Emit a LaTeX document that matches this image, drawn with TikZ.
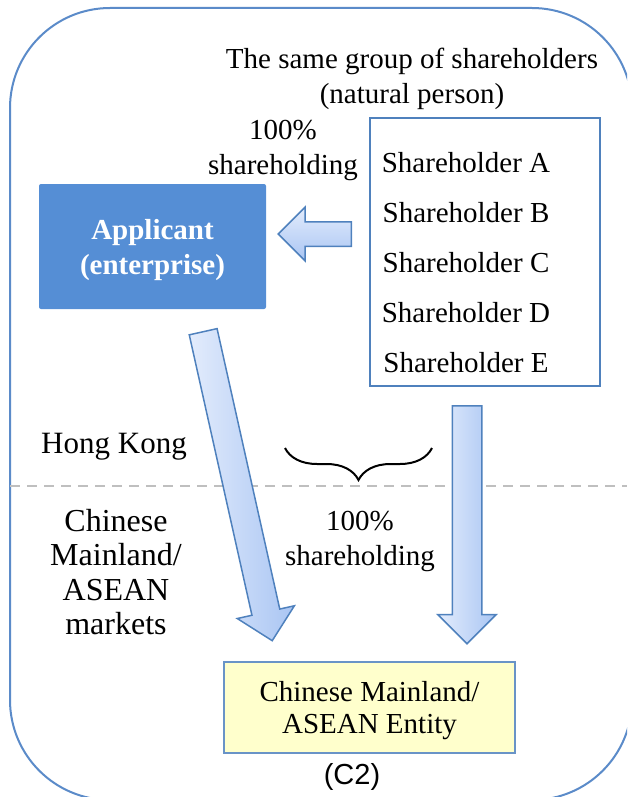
\documentclass[tikz,border=0pt]{standalone}
\usepackage{fontspec}
\setmainfont{Liberation Serif}
\newfontfamily\codesans{Liberation Sans}
\usetikzlibrary{shapes.arrows,decorations.pathreplacing}
\definecolor{frameblue}{HTML}{5B8BC9}
\definecolor{boxblue}{HTML}{558ED5}
\definecolor{edgeblue}{HTML}{4F81BD}
\definecolor{arrowlight}{HTML}{E3ECFC}
\definecolor{arrowdark}{HTML}{A9C5F3}
\definecolor{entityfill}{HTML}{FFFFCC}
\definecolor{dashgray}{HTML}{BFBFBF}

\begin{document}
\begin{tikzpicture}[
		x=1pt, y=-1pt,
		txt/.style={font=\fontsize{29}{35}\selectfont, align=center, inner sep=0pt},
		bigtxt/.style={txt, font=\fontsize{32}{34.5}\selectfont},
		applbox/.style={rectangle, rounded corners=2pt, fill=boxblue, minimum width=227pt, minimum height=125pt},
		holderbox/.style={rectangle, draw=edgeblue, line width=2pt, fill=white,
			minimum width=230pt, minimum height=268pt},
		entitybox/.style={rectangle, draw=edgeblue!85, line width=1.5pt, fill=entityfill,
			minimum width=291pt, minimum height=91pt},
		blockarrow/.style={single arrow, draw=edgeblue, line width=1.5pt, inner xsep=0pt,
			anchor=tail, single arrow tip angle=90},
		sideshade/.style={left color=arrowlight, right color=arrowdark},
		flatshade/.style={top color=arrowlight, bottom color=arrowdark}]
	\clip (0,0) rectangle (627,797);
	%% outer frame
	\draw[frameblue, line width=2pt, rounded corners=100pt] (10,8) rectangle (632,800);
	%% border line between the regions
	\draw[dashgray, line width=2pt, dash pattern=on 10pt off 7pt] (10,486) -- (627,486);
	%% boxes
	\node (appl) at (152.5,246.5) [applbox] {};
	\node (appltxt) at (152.5,250.5) [txt, text=white, font=\fontsize{29}{35}\selectfont\bfseries]
		{Applicant\\(enterprise)};
	\node (holders) at (485,252) [holderbox] {};
	\foreach \ltr [count=\i] in {A,B,C,D,E}
		\node (sh\ltr) at (466,{113+50*\i}) [txt] {Shareholder \ltr};
	\node (entity) at (369.5,707.5) [entitybox] {};
	\node (entitytxt) at (369.5,711) [txt, font=\fontsize{29}{32}\selectfont]
		{Chinese Mainland/\\ASEAN Entity};
	%% labels
	\node (group) at (412,79) [txt] {The same group of shareholders\\(natural person)};
	\node (pcttop) at (283,150) [txt] {100\%\\shareholding};
	\node (hk) at (114,447) [txt, font=\fontsize{31}{35}\selectfont] {Hong Kong};
	\node (mkts) at (116,572) [bigtxt] {Chinese\\Mainland/\\ASEAN\\markets};
	\node (pctlow) at (360,541) [txt] {100\%\\shareholding};
	\node (code) at (352,777) [txt, font=\codesans\fontsize{29}{35}\selectfont] {(C2)};
	%% block arrows, placed by their tails
	\coordinate (toapplstart) at (352,234);
	\coordinate (diagstart) at (203,331);
	\coordinate (downstart) at (467,405);
	\node (toappl) at (toapplstart) [blockarrow, flatshade, rotate=180, minimum height=73pt,
		inner ysep=11.5pt, single arrow head extend=14.5pt] {};
	\node (diag) at (diagstart) [blockarrow, sideshade, rotate=-77.4, minimum height=316.6pt,
		inner ysep=13.5pt, single arrow head extend=15pt] {};
	\node (down) at (downstart) [blockarrow, sideshade, rotate=-90, minimum height=238pt,
		inner ysep=14pt, single arrow head extend=14.5pt] {};
	%% brace
	\draw[line width=2pt, decorate, decoration={brace, amplitude=32pt}] (432,448) -- (285,448);
\end{tikzpicture}
\end{document}
